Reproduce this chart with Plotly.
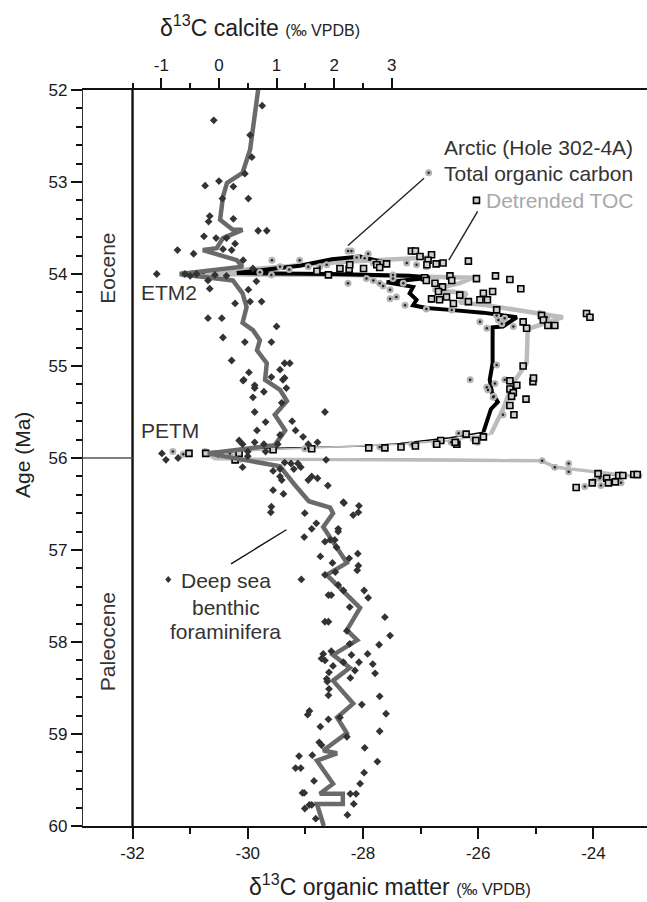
import plotly.graph_objects as go

FONT = "Liberation Sans, Arial, Helvetica, sans-serif"

# ---------------- DATA ----------------
# Deep-sea benthic foraminifera, d13C calcite (permil VPDB), smoothed curve
benthic_smooth_age = [52.00, 52.65, 52.90, 53.01, 53.16, 53.41, 53.52, 53.52, 53.61, 53.72,
                      53.74, 53.85, 53.92, 54.00, 54.07, 54.21, 54.36, 54.53, 54.61, 54.72,
                      54.83, 54.97, 55.15, 55.26, 55.38, 55.53, 55.70, 55.86, 55.95, 56.09,
                      56.28, 56.47, 56.54, 56.60, 56.75, 56.97, 57.14, 57.27, 57.44, 57.63,
                      57.87, 57.98, 58.14, 58.28, 58.42, 58.67, 58.82, 58.99, 59.18, 59.21,
                      59.29, 59.54, 59.65, 59.65, 59.76, 59.76, 60.00]
benthic_smooth_d13c = [0.68, 0.54, 0.41, 0.14, 0.07, 0.02, 0.24, 0.41, 0.07, -0.04,
                       -0.28, 0.31, 0.41, -0.68, 0.24, 0.41, 0.48, 0.41, 0.59, 0.71,
                       0.66, 0.83, 0.80, 1.06, 1.18, 0.97, 1.15, 0.97, -0.19, 1.06,
                       1.30, 1.56, 1.93, 1.98, 1.81, 2.05, 2.22, 1.87, 2.15, 2.45,
                       2.22, 2.40, 1.98, 2.27, 1.98, 2.33, 2.05, 2.22, 1.81, 2.05,
                       1.70, 1.98, 1.75, 2.15, 2.15, 1.70, 1.82]

# Deep-sea benthic foraminifera, individual measurements
benthic_age = [52.17, 52.33, 52.49, 52.73, 52.91, 53.04, 52.99, 53.05, 53.18, 53.18,
               53.37, 53.40, 53.43, 53.53, 53.53, 53.59, 53.61, 53.61, 53.67, 53.73,
               53.74, 53.78, 53.74, 53.85, 54.00, 54.00, 54.00, 54.07, 54.01, 54.02,
               53.94, 54.08, 54.16, 54.17, 54.32, 54.30, 54.30, 54.48, 54.48, 54.57,
               54.69, 54.74, 54.74, 54.94, 54.97, 54.97, 55.07, 55.04, 55.12, 55.16,
               55.15, 55.24, 55.24, 55.34, 54.02,
               55.15, 55.21, 55.13, 55.28, 55.50, 55.40, 55.50, 55.61, 55.60, 55.70,
               55.70, 55.75, 55.77, 55.81, 55.85, 55.83, 55.85, 55.85, 55.85, 55.83,
               55.93, 55.93, 55.98, 56.10, 56.05, 56.06, 56.12, 56.12, 56.10, 56.20,
               56.24, 56.20, 56.22, 56.14, 56.02, 56.35, 56.39, 56.30, 56.49, 56.59,
               56.59, 56.24, 56.06, 55.95, 56.02, 56.00,
               56.53, 56.60, 56.48, 56.52, 56.62, 56.71, 56.77, 56.77, 56.80, 56.86,
               56.91, 56.89, 56.89, 56.97, 57.07, 57.09, 57.04, 57.17, 57.22, 57.14,
               57.24, 57.32, 57.27, 57.38, 57.44, 57.44, 57.52, 57.49, 57.49, 57.62,
               57.73, 57.78, 57.78, 57.88, 57.93, 58.02, 58.03, 58.10, 58.13, 58.18,
               58.20, 58.22, 58.14, 58.22, 58.13, 58.24, 58.34, 58.26, 58.33, 58.40,
               58.43, 58.31, 58.39, 58.51, 58.58, 58.59, 58.68, 58.78, 58.75, 58.79,
               58.84, 58.82, 58.92, 58.97, 59.03, 59.09, 59.12, 59.15, 59.24, 59.23,
               59.30, 59.37, 59.37, 59.42, 59.51, 59.54, 59.64, 59.64, 59.65, 59.65,
               59.77, 59.77, 59.76, 59.81, 59.88, 59.92]
benthic_d13c = [0.75, -0.09, 0.54, 0.57, 0.45, -0.24, 0.00, 0.25, 0.06, 0.51,
                -0.16, 0.25, -0.18, 0.68, 0.83, -0.26, -0.05, 0.13, 0.28, 0.07,
                -0.72, -0.44, 0.22, 0.42, -1.08, -0.59, -0.39, -0.19, -0.07, 0.13,
                0.59, 0.65, -0.16, 0.51, 0.28, 0.54, 0.74, -0.19, 0.05, 1.00,
                0.07, 0.45, 0.91, 0.22, 1.14, 1.23, 0.52, 1.06, 0.91, 0.42,
                1.11, 0.62, 1.17, 0.59, -0.50,
                0.43, 0.62, 1.14, 0.78, 0.62, 1.09, 1.84, 0.81, 1.27, 0.66,
                1.33, 1.06, 1.46, 0.35, 0.41, 0.62, 0.78, 1.02, 1.55, 1.71,
                0.81, 0.50, 0.50, 0.41, 1.14, 1.25, 1.06, 1.30, 1.42, 1.06,
                1.09, 1.61, 1.71, 0.94, 1.86, 0.94, 1.12, 1.89, 2.17, 2.42,
                0.90, 1.55, 1.37, -0.99, -0.92, -0.71,
                0.91, 1.49, 2.16, 2.43, 2.33, 1.69, 1.61, 2.07, 2.07, 1.48,
                1.84, 1.93, 2.01, 2.04, 1.76, 2.26, 2.41, 2.42, 2.40, 1.97,
                2.02, 1.43, 1.84, 2.07, 2.16, 2.52, 2.59, 1.90, 1.95, 2.27,
                2.88, 1.84, 1.90, 2.22, 2.97, 2.27, 2.78, 1.95, 1.81, 1.78,
                1.84, 2.16, 2.30, 2.43, 2.58, 2.67, 2.71, 1.98, 1.91, 1.87,
                1.88, 2.36, 2.28, 1.91, 1.90, 2.79, 2.48, 2.90, 1.57, 1.54,
                1.90, 2.10, 1.76, 2.79, 2.22, 1.74, 1.78, 2.53, 1.39, 1.62,
                2.75, 1.33, 1.42, 2.52, 1.65, 2.45, 1.45, 1.48, 2.28, 2.38,
                1.57, 1.61, 2.34, 1.49, 2.23, 1.68]

# Arctic (Hole 302-4A) total organic carbon, d13C organic (permil VPDB), smoothed
toc_line_age = [53.88, 53.81, 53.84, 53.91, 53.99, 54.00, 54.02, 54.04, 54.09, 54.14,
                54.21, 54.28, 54.34, 54.37, 54.39, 54.42, 54.47, 54.57, 54.58, 54.97,
                55.15, 55.29, 55.39, 55.47, 55.72, 55.78, 55.84, 55.87, 55.90, 55.93,
                56.01, 56.02, 56.09, 56.20]
toc_line_d13c = [-27.59, -28.05, -28.54, -29.10, -30.19, -28.57, -27.19, -26.84, -27.59, -27.13,
                 -27.19, -27.07, -27.13, -26.90, -26.49, -25.92, -25.33, -25.57, -25.75, -25.75,
                 -25.80, -25.76, -25.66, -25.78, -25.91, -26.49, -27.36, -27.95, -29.96, -30.68,
                 -30.48, -24.91, -24.67, -23.49]

# Detrended TOC, smoothed
detr_line_age = [53.82, 53.84, 53.87, 53.94, 54.00, 54.01, 54.04, 54.10, 54.17, 54.21,
                 54.31, 54.34, 54.47, 54.59, 54.61, 54.97, 55.19, 55.47, 55.74, 55.81,
                 55.85, 55.89, 55.94, 56.01, 56.03, 56.10, 56.20]
detr_line_d13c = [-26.84, -27.48, -28.40, -29.79, -31.18, -28.23, -26.09, -26.32, -26.79, -26.20,
                  -26.32, -25.85, -24.53, -25.10, -25.14, -25.16, -25.40, -25.57, -25.78, -26.49,
                  -27.36, -28.89, -30.74, -30.57, -24.91, -24.67, -23.28]

# Total organic carbon, individual samples
toc_age = [53.85, 53.85, 53.92, 53.95, 53.92, 53.92, 53.90, 53.75, 53.75, 53.78,
           53.83, 53.82, 53.88, 53.88, 54.01, 54.10, 54.05, 54.07, 54.01, 54.05,
           54.10, 54.13, 54.17, 54.10, 54.25, 54.27, 54.34, 54.38, 54.39, 54.52,
           55.15, 53.98, 54.00, 54.01, 53.99,
           53.88, 54.28, 54.28, 54.59, 54.45, 54.50, 54.54, 54.48, 54.57, 54.43,
           54.47, 54.99, 55.17, 55.19, 55.26, 55.34, 53.88, 53.90, 53.92,
           55.23, 55.33, 55.15, 55.53, 55.73, 55.79, 55.83, 55.85, 55.83, 55.85,
           55.88, 55.89, 55.90, 55.95, 55.93, 55.96, 55.93, 55.95, 56.00, 55.96,
           56.02, 56.03, 56.10, 56.06, 56.15, 56.31, 56.22, 56.30, 56.24, 56.27,
           56.19, 56.25]
toc_d13c = [-29.58, -29.10, -29.44, -29.28, -28.95, -28.75, -28.63, -28.26, -28.20, -27.91,
            -27.97, -28.11, -27.71, -27.62, -29.59, -28.26, -27.94, -27.82, -27.48, -27.48,
            -27.71, -27.65, -27.53, -27.30, -27.42, -27.53, -27.27, -26.90, -26.46, -25.97,
            -26.14, -29.79, -31.12, -30.89, -30.77,
            -27.82, -26.81, -26.67, -25.85, -25.68, -25.65, -25.59, -25.54, -25.39, -24.93,
            -24.81, -25.68, -25.45, -25.71, -25.83, -25.74, -27.24, -27.07, -26.90,
            -25.85, -25.73, -25.54, -25.57, -26.34, -26.09, -26.01, -26.75, -26.47, -27.15,
            -27.71, -28.95, -29.01, -31.06, -31.30, -31.12, -30.74, -30.31, -30.19, -30.19,
            -30.15, -24.89, -24.67, -24.43, -24.43, -24.15, -23.89, -23.87, -23.62, -23.52,
            -23.21, -23.99]

# Detrended TOC, individual samples
detr_age = [53.97, 54.01, 53.94, 53.95, 53.94, 53.90, 53.90, 53.93, 53.89, 53.75,
            53.75, 53.81, 53.79, 53.85, 53.90, 53.89, 53.88, 53.86, 54.05, 54.02,
            54.06, 54.16, 54.19, 54.21, 54.28, 54.28, 54.30, 54.23, 54.25, 54.14,
            54.10, 54.04, 54.02, 54.07, 54.07, 54.19, 54.27, 54.28, 54.32, 54.39,
            54.52, 54.59, 54.45, 54.50, 54.56, 54.56, 54.43, 54.47, 55.00, 55.17,
            55.25, 55.29, 55.21,
            55.13, 55.16, 55.33, 55.43, 55.53, 55.36, 55.77, 55.81, 55.74, 55.85,
            55.81, 55.87, 55.88, 55.89, 55.89, 55.90, 55.91, 55.95, 55.95, 56.02,
            56.17, 56.22, 56.19, 56.19, 56.32, 56.27, 56.27, 56.26, 56.18, 56.18,
            55.85, 55.83, 55.95]
detr_d13c = [-28.80, -28.60, -28.40, -28.24, -27.99, -27.76, -28.23, -27.71, -27.59, -27.16,
             -27.09, -27.01, -26.81, -26.87, -26.89, -26.73, -26.61, -26.17, -26.03, -25.70,
             -25.45, -25.26, -25.75, -25.91, -25.97, -25.84, -26.17, -26.32, -26.55, -26.62,
             -26.75, -26.93, -26.49, -26.46, -26.90, -26.69, -26.81, -26.67, -26.43, -25.68,
             -25.22, -25.16, -24.90, -24.87, -24.79, -24.67, -24.12, -24.06, -25.22, -25.05,
             -25.45, -25.39, -25.33,
             -25.04, -25.45, -25.42, -25.45, -25.38, -25.17, -25.91, -26.04, -26.21, -26.37,
             -26.65, -27.09, -27.34, -27.62, -27.90, -28.89, -29.56, -31.02, -30.15, -30.22,
             -23.92, -23.77, -23.56, -23.49, -24.30, -24.02, -23.74, -23.62, -23.30, -23.24,
             -26.72, -26.40, -30.73]

# Axis tick values and labels
org_ticks = [-32, -30, -28, -26, -24]
org_labels = ["-32", "-30", "-28", "-26", "-24"]
org_minor = [-31, -29, -27, -25]
cal_ticks = [-1, 0, 1, 2, 3]
cal_labels = ["-1", "0", "1", "2", "3"]
cal_minor = [-1.5, -0.5, 0.5, 1.5, 2.5]
age_ticks = [52, 53, 54, 55, 56, 57, 58, 59, 60]
CAL_OFFSET = 30.5        # calcite scale = organic scale + 30.5
EPOCH_BOUNDARY = 56
BASE_ORG = -32

# ---------------- STYLE ----------------
X_RANGE = [-32.86, -23.07]
Y_RANGE = [60, 52]
AX = "#111111"
TXT = "#333333"

fig = go.Figure()

# thin black PETM connectors first (underneath the grey line)
fig.add_trace(go.Scatter(x=toc_line_d13c[24:34], y=toc_line_age[24:34],
                         mode="lines", line=dict(color="#000000", width=1.3),
                         xaxis="x", yaxis="y", hoverinfo="skip"))
# Detrended TOC line (light grey): thick, thin connector, thick
for (i0, i1, w) in [(0, 18, 4.5), (18, 22, 1.8), (22, 26, 3.4)]:
    fig.add_trace(go.Scatter(x=detr_line_d13c[i0:i1 + 1], y=detr_line_age[i0:i1 + 1],
                             mode="lines", line=dict(color="#bcbcbc", width=w),
                             xaxis="x", yaxis="y", hoverinfo="skip"))
# TOC line (black), thick part
fig.add_trace(go.Scatter(x=toc_line_d13c[0:25], y=toc_line_age[0:25],
                         mode="lines", line=dict(color="#000000", width=4.0),
                         xaxis="x", yaxis="y", hoverinfo="skip"))

# TOC samples: grey circle with dark centre
fig.add_trace(go.Scatter(x=toc_d13c, y=toc_age, mode="markers",
                         marker=dict(symbol="circle", size=7, color="#b4b4b4", line=dict(width=0)),
                         xaxis="x", yaxis="y"))
fig.add_trace(go.Scatter(x=toc_d13c, y=toc_age, mode="markers",
                         marker=dict(symbol="circle", size=2.5, color="#222222", line=dict(width=0)),
                         xaxis="x", yaxis="y", hoverinfo="skip"))
# Detrended samples: black-outlined square
fig.add_trace(go.Scatter(x=detr_d13c, y=detr_age, mode="markers",
                         marker=dict(symbol="square", size=6, color="#d0d0d0",
                                     line=dict(width=1.6, color="#000000")),
                         xaxis="x", yaxis="y"))

# Benthic foraminifera (top axis)
fig.add_trace(go.Scatter(x=benthic_smooth_d13c, y=benthic_smooth_age, mode="lines",
                         line=dict(color="#6a6a6a", width=4.5), xaxis="x2", yaxis="y",
                         hoverinfo="skip"))
fig.add_trace(go.Scatter(x=benthic_d13c, y=benthic_age, mode="markers",
                         marker=dict(symbol="diamond", size=6, color="#333333", line=dict(width=0)),
                         xaxis="x2", yaxis="y"))

tickfont = dict(family=FONT, size=17, color="#1a1a1a")

fig.update_layout(
    width=647, height=902,
    margin=dict(l=83, r=0, t=90, b=76),
    paper_bgcolor="white", plot_bgcolor="white",
    showlegend=False,
    font=dict(family=FONT, color=TXT),
    xaxis=dict(range=X_RANGE, tickmode="array", tickvals=org_ticks, ticktext=org_labels,
               ticks="outside", ticklen=11, tickwidth=1.5, tickcolor=AX,
               showline=True, linecolor=AX, linewidth=1.5,
               showgrid=False, zeroline=False, tickfont=tickfont,
               minor=dict(tickmode="array", tickvals=org_minor, ticks="outside",
                          ticklen=6, tickwidth=1.5, tickcolor=AX, showgrid=False)),
    xaxis2=dict(range=[X_RANGE[0] + CAL_OFFSET, X_RANGE[1] + CAL_OFFSET],
                overlaying="x", side="top", anchor="y",
                tickmode="array", tickvals=cal_ticks, ticktext=cal_labels,
                ticks="outside", ticklen=10, tickwidth=1.5, tickcolor=AX,
                showline=True, linecolor=AX, linewidth=1.5,
                showgrid=False, zeroline=False, tickfont=tickfont,
                minor=dict(tickmode="array", tickvals=cal_minor, ticks="outside",
                           ticklen=5, tickwidth=1.5, tickcolor=AX, showgrid=False)),
    yaxis=dict(range=Y_RANGE, tickmode="array", tickvals=age_ticks,
               ticks="outside", ticklen=11, tickwidth=1.5, tickcolor=AX,
               showline=True, linecolor="#333333", linewidth=1.3,
               showgrid=False, zeroline=False, tickfont=tickfont,
               minor=dict(tick0=52, dtick=0.2, ticks="outside", ticklen=6,
                          tickwidth=1.5, tickcolor=AX, showgrid=False)),
)

shapes = [
    dict(type="line", xref="x", yref="y", x0=BASE_ORG, x1=BASE_ORG, y0=Y_RANGE[1], y1=Y_RANGE[0],
         line=dict(color=AX, width=2.4)),
    dict(type="line", xref="x", yref="y", x0=X_RANGE[0], x1=BASE_ORG, y0=EPOCH_BOUNDARY,
         y1=EPOCH_BOUNDARY, line=dict(color="#555555", width=1.3)),
    # leader lines
    dict(type="line", xref="x", yref="y", x0=-26.94, y0=52.96, x1=-28.26, y1=53.69,
         line=dict(color="#222222", width=1.4)),
    dict(type="line", xref="x", yref="y", x0=-26.01, y0=53.32, x1=-26.51, y1=53.85,
         line=dict(color="#222222", width=1.4)),
    dict(type="line", xref="x", yref="y", x0=-29.33, y0=56.78, x1=-30.29, y1=57.15,
         line=dict(color="#111111", width=1.4)),
    # key glyphs
    dict(type="circle", xref="x", yref="y", xsizemode="pixel", ysizemode="pixel",
         xanchor=-26.86, yanchor=52.90, x0=-3.5, x1=3.5, y0=-3.5, y1=3.5,
         fillcolor="#b4b4b4", line=dict(width=0)),
    dict(type="circle", xref="x", yref="y", xsizemode="pixel", ysizemode="pixel",
         xanchor=-26.86, yanchor=52.90, x0=-1.2, x1=1.2, y0=-1.2, y1=1.2,
         fillcolor="#222222", line=dict(width=0)),
    dict(type="rect", xref="x", yref="y", xsizemode="pixel", ysizemode="pixel",
         xanchor=-26.03, yanchor=53.20, x0=-3, x1=3, y0=-3, y1=3,
         fillcolor="#d0d0d0", line=dict(color="#000000", width=1.6)),
    dict(type="path", xref="x", yref="y", xsizemode="pixel", ysizemode="pixel",
         xanchor=-31.38, yanchor=57.32, path="M 0 3.5 L 3 0 L 0 -3.5 L -3 0 Z",
         fillcolor="#333333", line=dict(width=0)),
]
fig.update_layout(shapes=shapes)

ann = []
def add(text, x, y, size=21, color=TXT, xanchor="center", yanchor="middle", angle=0,
        xref="x", yref="y", xshift=0, yshift=0):
    ann.append(dict(text=text, x=x, y=y, xref=xref, yref=yref, showarrow=False,
                    font=dict(family=FONT, size=size, color=color), xanchor=xanchor,
                    yanchor=yanchor, textangle=angle, xshift=xshift, yshift=yshift))

add("Eocene", -32.44, 53.94, angle=-90)
add("Paleocene", -32.44, 58.0, angle=-90)
add("ETM2", -31.89, 54.20, xanchor="left")
add("PETM", -31.89, 55.70, xanchor="left")
add("Arctic (Hole 302-4A)", -23.28, 52.63, xanchor="right")
add("Total organic carbon", -23.28, 52.91, xanchor="right")
add("Detrended TOC", -23.28, 53.20, xanchor="right", color="#a8a8a8")
add("Deep sea", -30.38, 57.33)
add("benthic", -30.38, 57.62)
add("foraminifera", -30.38, 57.89)

small = "<span style='font-size:16px'>(‰ VPDB)</span>"
add("δ<sup>13</sup>C calcite " + small, 0.3135, 1, size=23, color="#222222",
    xref="paper", yref="paper", yshift=64)
add("δ<sup>13</sup>C organic matter " + small, 0.544, 0, size=23, color="#222222",
    xref="paper", yref="paper", yshift=-59)
add("Age (Ma)", 0, 0.504, size=21, color="#222222", angle=-90,
    xref="paper", yref="paper", xshift=-61)

fig.update_layout(annotations=ann)

fig.write_html("out.html")
